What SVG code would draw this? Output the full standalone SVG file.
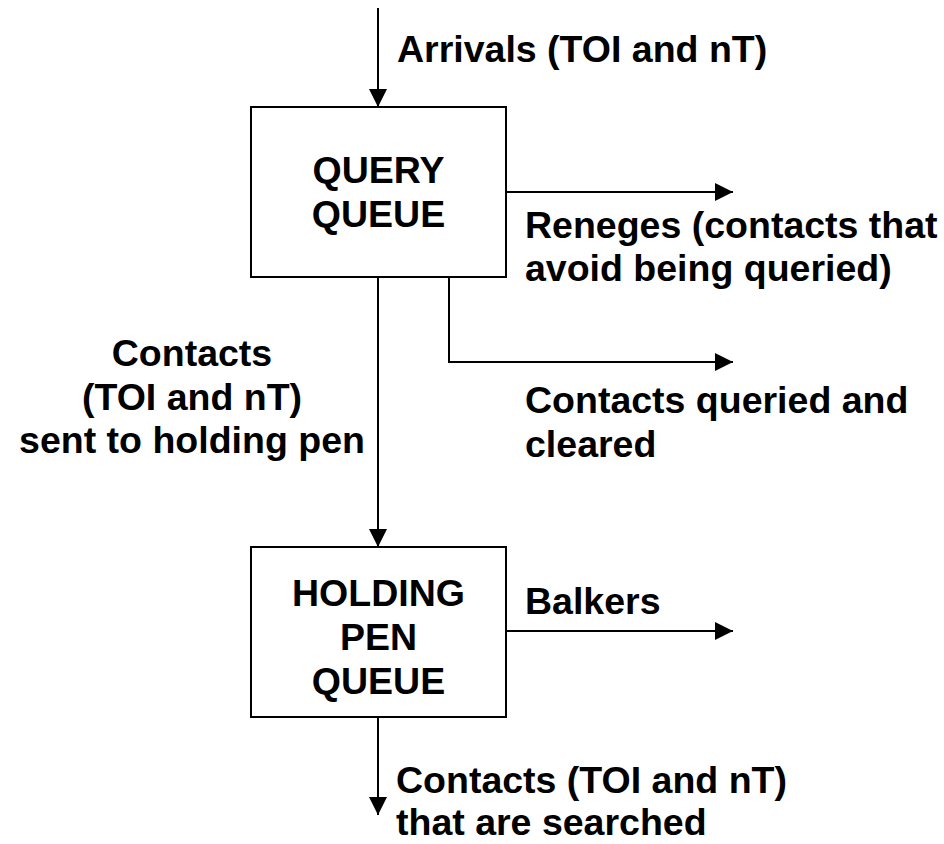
<svg xmlns="http://www.w3.org/2000/svg" width="944" height="844" viewBox="0 0 944 844">
<style>
.box{fill:#fff;stroke:#000;stroke-width:2}
.ln{fill:none;stroke:#000;stroke-width:2}
.t{font-family:"Liberation Sans",Arial,sans-serif;font-weight:bold;font-size:37.5px;fill:#000}
.c{text-anchor:middle}
</style>
<defs>
<marker id="ah" markerWidth="18" markerHeight="18" viewBox="0 0 18 18" refX="18" refY="9" orient="auto" markerUnits="userSpaceOnUse">
<path d="M0,0 L18,9 L0,18 Z" fill="#000"/>
</marker>
</defs>
<rect width="944" height="844" fill="#fff"/>
<g id="connectors">
<line class="ln" x1="378" y1="8" x2="378" y2="107" marker-end="url(#ah)"/>
<line class="ln" x1="506" y1="192" x2="733" y2="192" marker-end="url(#ah)"/>
<polyline class="ln" points="449,277 449,362 733,362" marker-end="url(#ah)"/>
<line class="ln" x1="378" y1="277" x2="378" y2="547" marker-end="url(#ah)"/>
<line class="ln" x1="506" y1="631" x2="733" y2="631" marker-end="url(#ah)"/>
<line class="ln" x1="378" y1="717" x2="378" y2="815" marker-end="url(#ah)"/>
</g>
<g id="query-queue">
<rect class="box" x="251" y="107" width="255" height="170"/>
<text class="t c" x="378.5" y="183">QUERY</text>
<text class="t c" x="378.5" y="227">QUEUE</text>
</g>
<g id="holding-pen-queue">
<rect class="box" x="251" y="547" width="255" height="170"/>
<text class="t c" x="378.5" y="606">HOLDING</text>
<text class="t c" x="378.5" y="650">PEN</text>
<text class="t c" x="378.5" y="694">QUEUE</text>
</g>
<g id="labels">
<text class="t" x="397" y="62">Arrivals (TOI and nT)</text>
<text class="t" x="525" y="238">Reneges (contacts that</text>
<text class="t" x="525" y="281">avoid being queried)</text>
<text class="t" x="525" y="413">Contacts queried and</text>
<text class="t" x="525" y="457">cleared</text>
<text class="t c" x="192" y="366">Contacts</text>
<text class="t c" x="192" y="410">(TOI and nT)</text>
<text class="t c" x="192" y="453">sent to holding pen</text>
<text class="t" x="525" y="614">Balkers</text>
<text class="t" x="396" y="793">Contacts (TOI and nT)</text>
<text class="t" x="396" y="835">that are searched</text>
</g>
</svg>
